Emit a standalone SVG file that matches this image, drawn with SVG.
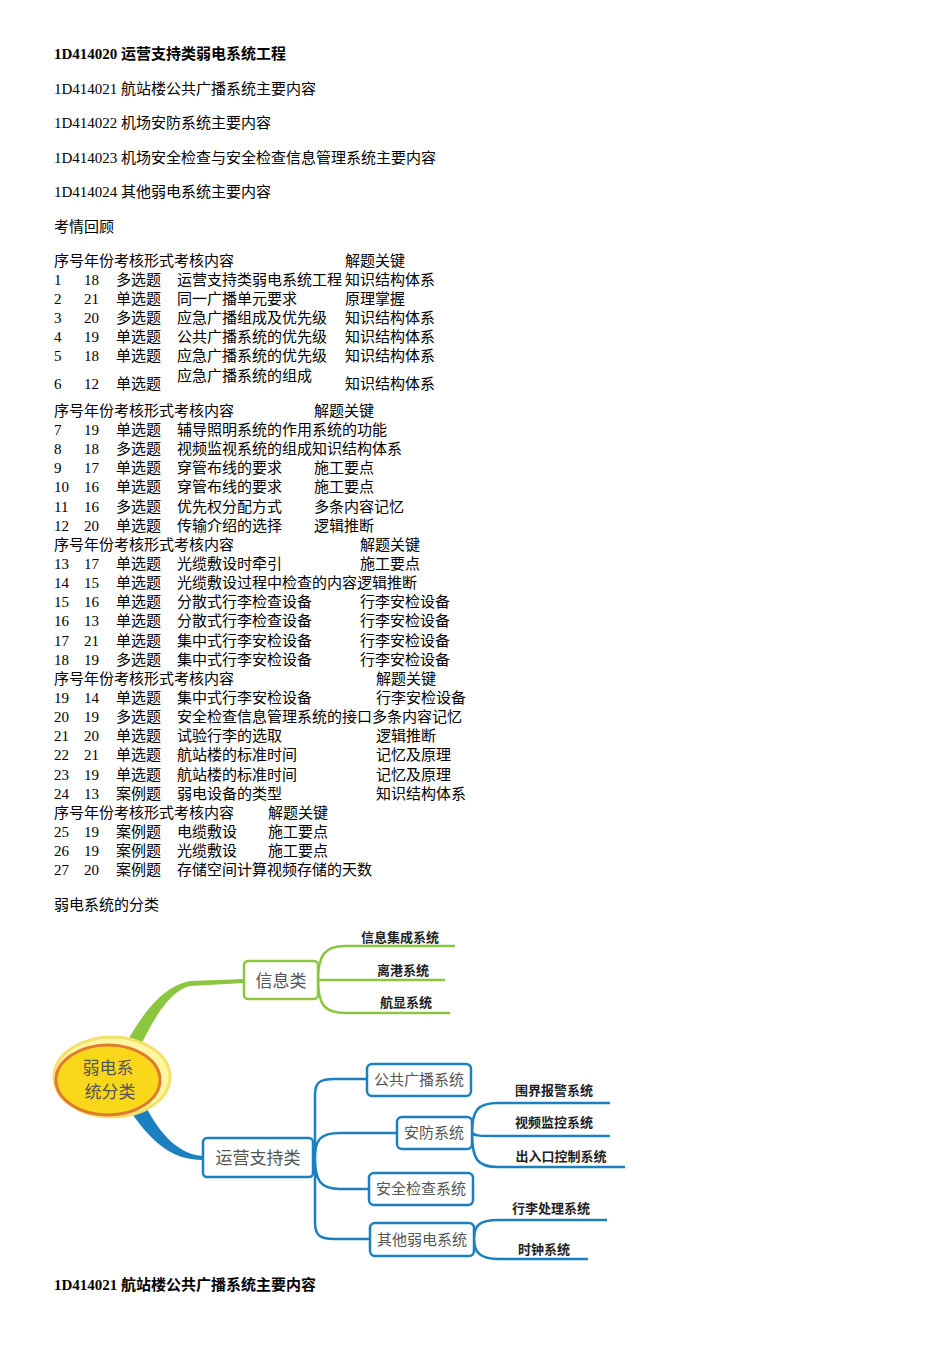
<svg xmlns="http://www.w3.org/2000/svg" width="950" height="1345" viewBox="0 0 950 1345">
<style>
text{font-family:"Liberation Serif","Noto Sans CJK SC",serif;font-size:15px;fill:#000}
.b{font-weight:bold}
.g{fill:none;stroke:#8cc63f;stroke-width:2.5}
.bl{fill:none;stroke:#1b7fc0;stroke-width:2.5}
.gb{fill:#fff;stroke:#8cc63f;stroke-width:2.5}
.bb{fill:#fff;stroke:#1b7fc0;stroke-width:2.5}
.n{font-family:"Noto Sans CJK SC",sans-serif;font-size:15px;fill:#555;text-anchor:middle}
.nb{font-family:"Noto Sans CJK SC",sans-serif;font-size:17px;fill:#555;text-anchor:middle}
.lf{font-family:"Noto Sans CJK SC",sans-serif;font-size:13px;font-weight:bold;fill:#222;text-anchor:middle}
</style>
<rect width="950" height="1345" fill="#fff"/>
<g id="text">
<text x="54" y="59" class="b">1D414020 运营支持类弱电系统工程</text>
<text x="54" y="94">1D414021 航站楼公共广播系统主要内容</text>
<text x="54" y="128">1D414022 机场安防系统主要内容</text>
<text x="54" y="163">1D414023 机场安全检查与安全检查信息管理系统主要内容</text>
<text x="54" y="197">1D414024 其他弱电系统主要内容</text>
<text x="54" y="232">考情回顾</text>
<text x="54" y="266">序号年份考核形式考核内容</text><text x="345" y="266">解题关键</text>
<text x="54" y="285">1</text><text x="84" y="285">18</text><text x="116" y="285">多选题</text><text x="177" y="285">运营支持类弱电系统工程</text><text x="345" y="285">知识结构体系</text>
<text x="54" y="304">2</text><text x="84" y="304">21</text><text x="116" y="304">单选题</text><text x="177" y="304">同一广播单元要求</text><text x="345" y="304">原理掌握</text>
<text x="54" y="323">3</text><text x="84" y="323">20</text><text x="116" y="323">多选题</text><text x="177" y="323">应急广播组成及优先级</text><text x="345" y="323">知识结构体系</text>
<text x="54" y="342">4</text><text x="84" y="342">19</text><text x="116" y="342">单选题</text><text x="177" y="342">公共广播系统的优先级</text><text x="345" y="342">知识结构体系</text>
<text x="54" y="361">5</text><text x="84" y="361">18</text><text x="116" y="361">单选题</text><text x="177" y="361">应急广播系统的优先级</text><text x="345" y="361">知识结构体系</text>
<text x="54" y="389">6</text><text x="84" y="389">12</text><text x="116" y="389">单选题</text><text x="177" y="381">应急广播系统的组成</text><text x="345" y="389">知识结构体系</text>
<text x="54" y="416">序号年份考核形式考核内容</text><text x="314" y="416">解题关键</text>
<text x="54" y="435">7</text><text x="84" y="435">19</text><text x="116" y="435">单选题</text><text x="177" y="435">辅导照明系统的作用系统的功能</text>
<text x="54" y="454">8</text><text x="84" y="454">18</text><text x="116" y="454">多选题</text><text x="177" y="454">视频监视系统的组成知识结构体系</text>
<text x="54" y="473">9</text><text x="84" y="473">17</text><text x="116" y="473">单选题</text><text x="177" y="473">穿管布线的要求</text><text x="314" y="473">施工要点</text>
<text x="54" y="492">10</text><text x="84" y="492">16</text><text x="116" y="492">单选题</text><text x="177" y="492">穿管布线的要求</text><text x="314" y="492">施工要点</text>
<text x="54" y="512">11</text><text x="84" y="512">16</text><text x="116" y="512">多选题</text><text x="177" y="512">优先权分配方式</text><text x="314" y="512">多条内容记忆</text>
<text x="54" y="531">12</text><text x="84" y="531">20</text><text x="116" y="531">单选题</text><text x="177" y="531">传输介绍的选择</text><text x="314" y="531">逻辑推断</text>
<text x="54" y="550">序号年份考核形式考核内容</text><text x="360" y="550">解题关键</text>
<text x="54" y="569">13</text><text x="84" y="569">17</text><text x="116" y="569">单选题</text><text x="177" y="569">光缆敷设时牵引</text><text x="360" y="569">施工要点</text>
<text x="54" y="588">14</text><text x="84" y="588">15</text><text x="116" y="588">单选题</text><text x="177" y="588">光缆敷设过程中检查的内容逻辑推断</text>
<text x="54" y="607">15</text><text x="84" y="607">16</text><text x="116" y="607">单选题</text><text x="177" y="607">分散式行李检查设备</text><text x="360" y="607">行李安检设备</text>
<text x="54" y="626">16</text><text x="84" y="626">13</text><text x="116" y="626">单选题</text><text x="177" y="626">分散式行李检查设备</text><text x="360" y="626">行李安检设备</text>
<text x="54" y="646">17</text><text x="84" y="646">21</text><text x="116" y="646">单选题</text><text x="177" y="646">集中式行李安检设备</text><text x="360" y="646">行李安检设备</text>
<text x="54" y="665">18</text><text x="84" y="665">19</text><text x="116" y="665">多选题</text><text x="177" y="665">集中式行李安检设备</text><text x="360" y="665">行李安检设备</text>
<text x="54" y="684">序号年份考核形式考核内容</text><text x="376" y="684">解题关键</text>
<text x="54" y="703">19</text><text x="84" y="703">14</text><text x="116" y="703">单选题</text><text x="177" y="703">集中式行李安检设备</text><text x="376" y="703">行李安检设备</text>
<text x="54" y="722">20</text><text x="84" y="722">19</text><text x="116" y="722">多选题</text><text x="177" y="722">安全检查信息管理系统的接口多条内容记忆</text>
<text x="54" y="741">21</text><text x="84" y="741">20</text><text x="116" y="741">单选题</text><text x="177" y="741">试验行李的选取</text><text x="376" y="741">逻辑推断</text>
<text x="54" y="760">22</text><text x="84" y="760">21</text><text x="116" y="760">单选题</text><text x="177" y="760">航站楼的标准时间</text><text x="376" y="760">记忆及原理</text>
<text x="54" y="780">23</text><text x="84" y="780">19</text><text x="116" y="780">单选题</text><text x="177" y="780">航站楼的标准时间</text><text x="376" y="780">记忆及原理</text>
<text x="54" y="799">24</text><text x="84" y="799">13</text><text x="116" y="799">案例题</text><text x="177" y="799">弱电设备的类型</text><text x="376" y="799">知识结构体系</text>
<text x="54" y="818">序号年份考核形式考核内容</text><text x="268" y="818">解题关键</text>
<text x="54" y="837">25</text><text x="84" y="837">19</text><text x="116" y="837">案例题</text><text x="177" y="837">电缆敷设</text><text x="268" y="837">施工要点</text>
<text x="54" y="856">26</text><text x="84" y="856">19</text><text x="116" y="856">案例题</text><text x="177" y="856">光缆敷设</text><text x="268" y="856">施工要点</text>
<text x="54" y="875">27</text><text x="84" y="875">20</text><text x="116" y="875">案例题</text><text x="177" y="875">存储空间计算视频存储的天数</text>
<text x="54" y="910">弱电系统的分类</text>
<text x="54" y="1290" class="b">1D414021 航站楼公共广播系统主要内容</text>
</g>
<g id="connectors">
<path d="M125 1045 C150 1000 170 985 190 981 L244 979 L244 983 L190 986 C175 990 160 1005 140 1047 Z" fill="#8cc63f"/>
<path d="M128 1108 C150 1140 170 1160 203 1160 L203 1156 C180 1155 160 1135 145 1105 Z" fill="#1b7fc0"/>
<path class="g" d="M318 980 C318 955 325 946 345 946 L455 946 M318 980 L445 980 M318 980 C318 1005 325 1013 345 1013 L450 1013"/>
<path class="bl" d="M313 1158 L315 1158 M315 1158 L315 1095 C315 1082 320 1079 335 1079 L367 1079 M315 1158 C315 1140 320 1133 340 1133 L397 1133 M315 1158 L315 1222 C315 1236 320 1239 335 1239 L370 1239 M315 1158 C315 1180 320 1189 340 1189 L369 1189"/>
<path class="bl" d="M472 1133 C472 1110 478 1103 498 1103 L610 1103 M472 1133 C475 1136 480 1136 498 1136 L610 1136 M472 1133 C472 1160 478 1167 498 1167 L625 1167"/>
<path class="bl" d="M474 1239 C474 1225 480 1220 498 1220 L607 1220 M474 1239 C474 1252 480 1259 498 1259 L588 1259"/>
</g>
<g id="root">
<ellipse cx="112" cy="1077" rx="58" ry="40" fill="#fff7a0" stroke="#f5e06a" stroke-width="3"/>
<ellipse cx="108" cy="1080" rx="52" ry="35" fill="#f9d81c" stroke="#e07b2e" stroke-width="3"/>
<text x="108" y="1074" class="nb">弱电系</text>
<text x="110" y="1098" class="nb">统分类</text>
</g>
<g id="info"><rect x="244" y="961" width="74" height="38" rx="4" class="gb"/><text x="281" y="987" class="nb">信息类</text></g>
<g id="ops"><rect x="203" y="1138" width="110" height="39" rx="4" class="bb"/><text x="258" y="1164" class="nb">运营支持类</text></g>
<g id="pa"><rect x="367" y="1064" width="104" height="32" rx="5" class="bb"/><text x="419" y="1085" class="n">公共广播系统</text></g>
<g id="sec"><rect x="397" y="1117" width="75" height="32" rx="5" class="bb"/><text x="434" y="1138" class="n">安防系统</text></g>
<g id="chk"><rect x="369" y="1173" width="104" height="32" rx="5" class="bb"/><text x="421" y="1194" class="n">安全检查系统</text></g>
<g id="oth"><rect x="370" y="1223" width="104" height="33" rx="5" class="bb"/><text x="422" y="1245" class="n">其他弱电系统</text></g>
<g id="leaves">
<text x="400" y="942" class="lf">信息集成系统</text>
<text x="403" y="975" class="lf">离港系统</text>
<text x="406" y="1007" class="lf">航显系统</text>
<text x="554" y="1095" class="lf">围界报警系统</text>
<text x="554" y="1127" class="lf">视频监控系统</text>
<text x="561" y="1161" class="lf">出入口控制系统</text>
<text x="551" y="1213" class="lf">行李处理系统</text>
<text x="544" y="1254" class="lf">时钟系统</text>
</g>
</svg>
